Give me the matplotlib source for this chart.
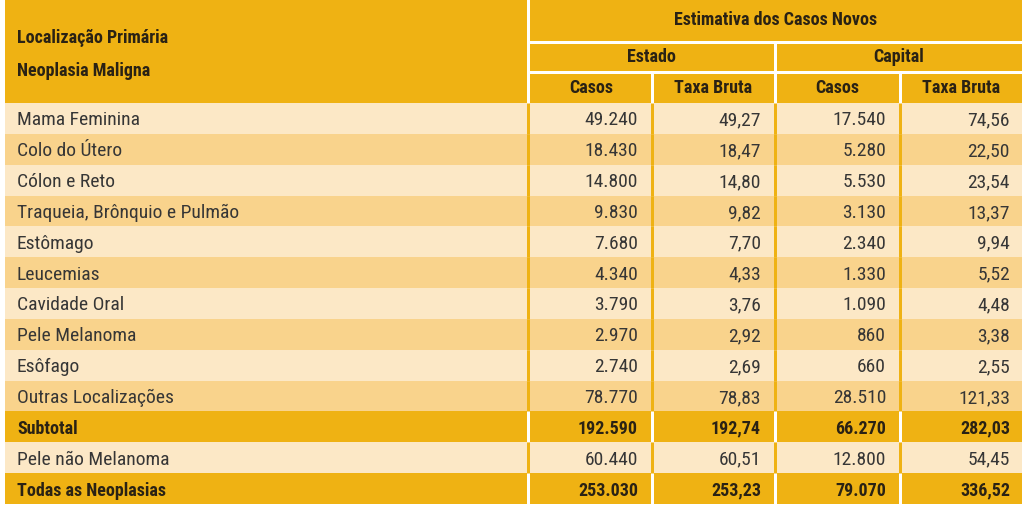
import matplotlib
matplotlib.use("Agg")
import matplotlib.pyplot as plt
from matplotlib.patches import Rectangle
from matplotlib import font_manager

# table content
locais = ["Mama Feminina", "Colo do Útero", "Cólon e Reto", "Traqueia, Brônquio e Pulmão",
          "Estômago", "Leucemias", "Cavidade Oral", "Pele Melanoma", "Esôfago",
          "Outras Localizações", "Subtotal", "Pele não Melanoma", "Todas as Neoplasias"]
estadoCasos = ["49.240", "18.430", "14.800", "9.830", "7.680", "4.340", "3.790", "2.970",
               "2.740", "78.770", "192.590", "60.440", "253.030"]
estadoTaxa = ["49,27", "18,47", "14,80", "9,82", "7,70", "4,33", "3,76", "2,92",
              "2,69", "78,83", "192,74", "60,51", "253,23"]
capitalCasos = ["17.540", "5.280", "5.530", "3.130", "2.340", "1.330", "1.090", "860",
                "660", "28.510", "66.270", "12.800", "79.070"]
capitalTaxa = ["74,56", "22,50", "23,54", "13,37", "9,94", "5,52", "4,48", "3,38",
               "2,55", "121,33", "282,03", "54,45", "336,52"]
boldRows = ["Subtotal", "Todas as Neoplasias"]

gold = "#EFB213"
light = "#FCE8C6"
mid = "#F9D38C"
txt = "#363636"
hdr = "#2A2214"

names = set(f.name for f in font_manager.fontManager.ttflist)
fam = "DejaVu Sans"
for cand in ["Roboto Condensed", "Archivo Narrow", "Barlow Condensed",
             "Liberation Sans Narrow", "Liberation Sans"]:
    if cand in names:
        fam = cand
        break
bodySize, boldSize = 14, 13

fig = plt.figure(figsize=(10.24, 5.08), dpi=100)
ax = fig.add_axes([0, 0, 1, 1])
ax.set_xlim(0, 1024)
ax.set_ylim(508, 0)
ax.axis("off")

left, right = 5, 1022
headBottom = 103
rowH = (504 - headBottom) / len(locais)
colEdges = [527.5, 651.5, 774.5, 899.5]
colRight = [638, 761, 886, 1010]
lw = 3 * 72 / 100

# header
ax.add_patch(Rectangle((left, 0), right - left, headBottom, color=gold, lw=0))
ax.plot([colEdges[0]] * 2, [0, headBottom], color="white", lw=lw)
ax.plot([529, right], [41.5, 41.5], color="white", lw=lw)
ax.plot([529, right], [71.5, 71.5], color="white", lw=lw)
ax.plot([colEdges[2]] * 2, [43, headBottom], color="white", lw=lw)
for x in (colEdges[1], colEdges[3]):
    ax.plot([x, x], [73, headBottom], color="white", lw=lw)

hb = dict(family=fam, fontsize=boldSize, fontweight="bold", color=hdr, va="center")
ax.text(17, 38, "Localização Primária", ha="left", **hb)
ax.text(17, 71, "Neoplasia Maligna", ha="left", **hb)
ax.text((529 + right) / 2, 20, "Estimativa dos Casos Novos", ha="center", **hb)
ax.text((529 + 773) / 2, 57, "Estado", ha="center", **hb)
ax.text((776 + right) / 2, 57, "Capital", ha="center", **hb)
subEdges = [529, 650, 773, 898, right]
for i, lab in enumerate(["Casos", "Taxa Bruta", "Casos", "Taxa Bruta"]):
    ax.text((subEdges[i] + subEdges[i + 1] + 3) / 2, 88, lab, ha="center", **hb)

# body, plain rows alternate light / mid
k = 0
for i, name in enumerate(locais):
    y0 = headBottom + i * rowH
    bold = name in boldRows
    if bold:
        fc = gold
    else:
        fc = light if k % 2 == 0 else mid
        k += 1
    ax.add_patch(Rectangle((left, y0), right - left, rowH, color=fc, lw=0))
    for x in colEdges:
        ax.plot([x, x], [y0, y0 + rowH], color="white" if bold else gold, lw=lw,
                solid_capstyle="butt")
    yc = y0 + rowH / 2 + 2
    kw = dict(family=fam, fontsize=boldSize if bold else bodySize, va="center",
              fontweight="bold" if bold else "normal",
              color=hdr if bold else txt)
    ax.text(17, yc, name, ha="left", **kw)
    vals = [estadoCasos[i], estadoTaxa[i], capitalCasos[i], capitalTaxa[i]]
    for xr, v in zip(colRight, vals):
        ax.text(xr, yc, v, ha="right", **kw)

fig.savefig("out.png", dpi=100)
